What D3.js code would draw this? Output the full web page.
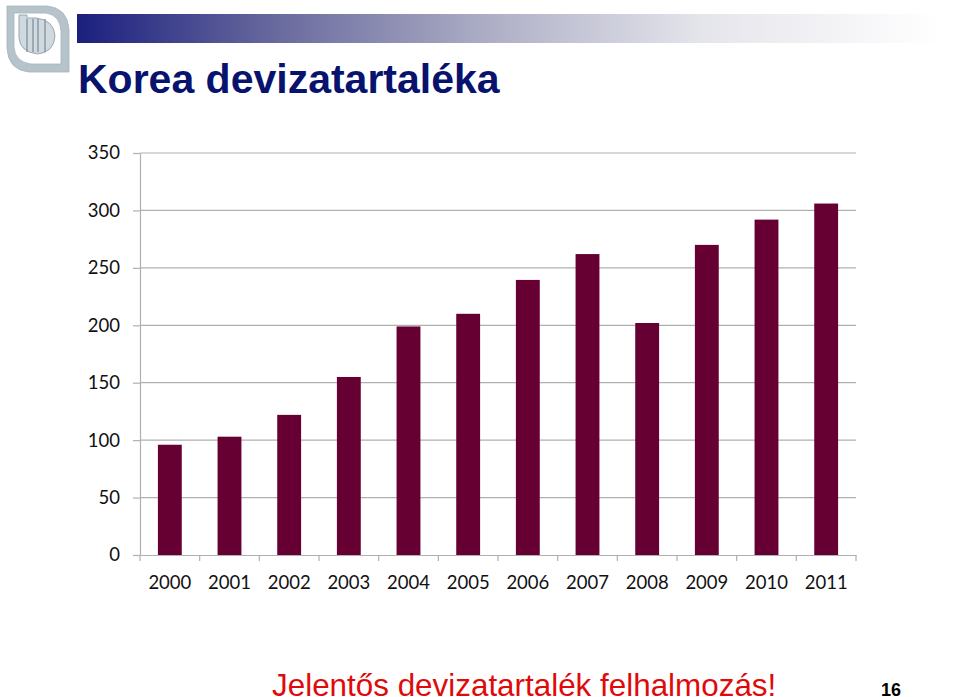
<!DOCTYPE html>
<html>
<head>
<meta charset="utf-8">
<script src="https://cdn.jsdelivr.net/npm/d3@7"></script>
<style>
  html, body { margin: 0; padding: 0; background: #fff; overflow: hidden; }
</style>
</head>
<body>
<div id="chart"></div>
<script>
var years = ["2000", "2001", "2002", "2003", "2004", "2005", "2006", "2007", "2008", "2009", "2010", "2011"];
var reserves = [96, 103, 122, 155, 199, 210, 239.5, 262, 202, 270, 292, 306];
var yTicks = [0, 50, 100, 150, 200, 250, 300, 350];

var svg = d3.select("#chart")
  .append("svg")
    .attr("width", 960)
    .attr("height", 697)
    .style("display", "block");

// banner
var grad = svg.append("defs").append("linearGradient").attr("id", "banner");
grad.append("stop").attr("offset", "0%").attr("stop-color", "#1b1f7e");
grad.append("stop").attr("offset", "23.5%").attr("stop-color", "#6a6b9e");
grad.append("stop").attr("offset", "48%").attr("stop-color", "#aeafc6");
grad.append("stop").attr("offset", "72%").attr("stop-color", "#e4e4eb");
grad.append("stop").attr("offset", "100%").attr("stop-color", "#ffffff");

svg.append("rect")
  .attr("x", 77).attr("y", 14)
  .attr("width", 863).attr("height", 29)
  .attr("fill", "url(#banner)");

// logo
var logo = svg.append("g").attr("fill", "none");
logo.append("path")
  .attr("d", "M7 6 H47 Q68 8 69 30 V72 H29 Q8 70 7 48 Z M14 13 V47 Q15 62 31 64 H61 V31 Q60 15 46 13 Z")
  .attr("fill", "#b7c3ca").attr("fill-rule", "evenodd").attr("stroke", "#a5b3bc").attr("stroke-width", 0.8);
logo.append("path")
  .attr("d", "M27 18 H36 Q54 20 55 36 Q54 52 38 54 Q20 52 19 38 V15 H27 Z")
  .attr("fill", "#cfd9de").attr("stroke", "#98a8b2").attr("stroke-width", 1);
logo.selectAll("line.stripe")
  .data([27, 33, 38, 45])
  .enter()
  .append("line")
    .attr("x1", function (d) { return d; })
    .attr("x2", function (d) { return d; })
    .attr("y1", 19).attr("y2", 52)
    .attr("stroke", "#8d9da8").attr("stroke-width", 1.6);

svg.append("text")
  .attr("x", 78).attr("y", 93)
  .attr("font-family", "Liberation Sans")
  .attr("font-weight", "bold")
  .attr("font-size", 41)
  .attr("fill", "#08136e")
  .text("Korea devizatartaléka");

// chart
var x = d3.scaleBand()
  .domain(years)
  .range([140, 856])
  .paddingInner(0.6)
  .paddingOuter(0.3);

var y = d3.scaleLinear()
  .domain([0, 350])
  .range([555, 153]);

svg.append("g")
  .selectAll("line")
  .data(yTicks.slice(1))
  .enter()
  .append("line")
    .attr("x1", 140).attr("x2", 856)
    .attr("y1", function (d) { return y(d); })
    .attr("y2", function (d) { return y(d); })
    .attr("stroke", "#b0b0b0")
    .attr("stroke-width", 1.2);

svg.append("g")
  .selectAll("rect")
  .data(reserves)
  .enter()
  .append("rect")
    .attr("x", function (d, i) { return x(years[i]); })
    .attr("y", function (d) { return y(d); })
    .attr("width", x.bandwidth())
    .attr("height", function (d) { return y(0) - y(d); })
    .attr("fill", "#660033");

var yAxis = svg.append("g")
  .attr("transform", "translate(140,0)")
  .call(d3.axisLeft(y).tickValues(yTicks).tickSize(7).tickPadding(13).tickSizeOuter(0));

var xAxis = svg.append("g")
  .attr("transform", "translate(0,555)")
  .call(d3.axisBottom(x).tickSize(0).tickPadding(21).tickSizeOuter(0));

// x ticks sit between the categories
var step = x.step();
xAxis.selectAll("line.sep")
  .data(d3.range(years.length + 1))
  .enter()
  .append("line")
    .attr("class", "sep")
    .attr("x1", function (d) { return 140 + d * step; })
    .attr("x2", function (d) { return 140 + d * step; })
    .attr("y1", 0).attr("y2", 6)
    .attr("stroke", "#b0b0b0")
    .attr("stroke-width", 1.2);

svg.selectAll(".domain, .tick line")
  .attr("stroke", "#b0b0b0")
  .attr("stroke-width", 1.2);

svg.selectAll(".tick text")
  .attr("font-family", "Lato")
  .attr("font-size", 18.5)
  .attr("fill", "#111");

// footer
svg.append("text")
  .attr("x", 272).attr("y", 696)
  .attr("font-family", "Liberation Sans")
  .attr("font-size", 31.4)
  .attr("fill", "#e00a0a")
  .text("Jelentős devizatartalék felhalmozás!");

svg.append("text")
  .attr("x", 881).attr("y", 696)
  .attr("font-family", "Liberation Sans")
  .attr("font-weight", "bold")
  .attr("font-size", 18)
  .attr("fill", "#000")
  .text("16");
</script>
</body>
</html>
